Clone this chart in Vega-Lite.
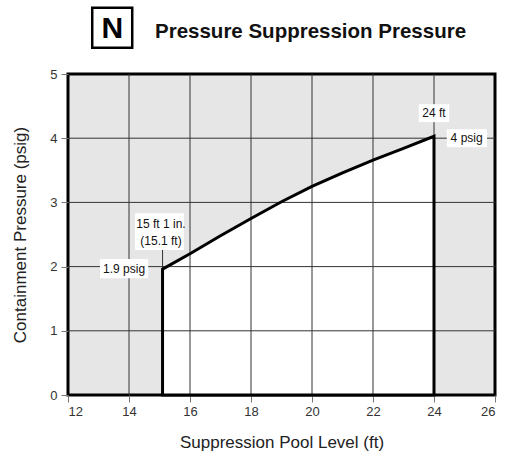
{
  "$schema": "https://vega.github.io/schema/vega-lite/v6.json",
  "width": 427,
  "height": 321,
  "autosize": "none",
  "padding": {"left": 68, "top": 74, "right": 14, "bottom": 59},
  "background": "white",
  "title": {
    "text": "Pressure Suppression Pressure",
    "anchor": "start",
    "frame": "group",
    "dx": 87,
    "offset": -40,
    "font": "Liberation Sans",
    "fontSize": 20.5,
    "fontWeight": "bold",
    "color": "#111"
  },
  "config": {
    "view": {"fill": "#e6e6e6", "stroke": "#000", "strokeWidth": 3},
    "axis": {
      "grid": false,
      "domain": false,
      "tickColor": "#777",
      "tickSize": 7,
      "labelFont": "Liberation Sans",
      "labelFontSize": 13,
      "labelColor": "#333",
      "titleFont": "Liberation Sans",
      "titleFontSize": 17,
      "titleFontWeight": "normal",
      "titleColor": "#222"
    },
    "text": {"font": "Liberation Sans"}
  },
  "datasets": {
    "curve": [
      {"level": 15.1, "psig": 1.96},
      {"level": 16, "psig": 2.2},
      {"level": 17, "psig": 2.48},
      {"level": 18, "psig": 2.75},
      {"level": 19, "psig": 3.01},
      {"level": 20, "psig": 3.25},
      {"level": 21, "psig": 3.46},
      {"level": 22, "psig": 3.66},
      {"level": 23, "psig": 3.84},
      {"level": 24, "psig": 4.03}
    ],
    "gridx": [{"level": 14}, {"level": 16}, {"level": 18}, {"level": 20}, {"level": 22}, {"level": 24}],
    "gridy": [{"psig": 1}, {"psig": 2}, {"psig": 3}, {"psig": 4}],
    "leader": [{"level": 15.1, "from": 1.96, "to": 2.27}],
    "labels": [
      {"text": ["1.9 psig"], "level": 13.84, "psig": 1.97, "x1": 13.05, "x2": 14.63, "y1": 1.82, "y2": 2.12},
      {"text": ["15 ft 1 in.", "(15.1 ft)"], "level": 15.05, "psig": 2.66, "x1": 14.2, "x2": 15.8, "y1": 2.26, "y2": 2.83},
      {"text": ["24 ft"], "level": 24, "psig": 4.39, "x1": 23.5, "x2": 24.5, "y1": 4.25, "y2": 4.53},
      {"text": ["4 psig"], "level": 25.07, "psig": 4.0, "x1": 24.42, "x2": 25.74, "y1": 3.86, "y2": 4.14}
    ],
    "badge": [{"level": 13.45, "psig": 5.72, "text": "N"}]
  },
  "layer": [
    {
      "data": {"name": "curve"},
      "mark": {"type": "area", "fill": "white", "stroke": null},
      "encoding": {
        "x": {"field": "level", "type": "quantitative", "scale": {"domain": [12, 26], "nice": false}, "axis": {"values": [12, 14, 16, 18, 20, 22, 24, 26], "title": "Suppression Pool Level (ft)", "titlePadding": 16, "labelPadding": 3}},
        "y": {"field": "psig", "type": "quantitative", "scale": {"domain": [0, 5], "nice": false}, "axis": {"values": [0, 1, 2, 3, 4, 5], "format": "d", "title": "Containment Pressure (psig)", "titlePadding": 20, "labelPadding": 4}}
      }
    },
    {
      "data": {"name": "gridx"},
      "mark": {"type": "rule", "color": "#333", "strokeWidth": 1},
      "encoding": {"x": {"field": "level", "type": "quantitative"}}
    },
    {
      "data": {"name": "gridy"},
      "mark": {"type": "rule", "color": "#333", "strokeWidth": 1},
      "encoding": {"y": {"field": "psig", "type": "quantitative"}}
    },
    {
      "data": {"name": "leader"},
      "mark": {"type": "rule", "color": "#333", "strokeWidth": 1},
      "encoding": {
        "x": {"field": "level", "type": "quantitative"},
        "y": {"field": "from", "type": "quantitative"},
        "y2": {"field": "to"}
      }
    },
    {
      "data": {"name": "curve"},
      "mark": {"type": "area", "fill": null, "fillOpacity": 0, "stroke": "black", "strokeWidth": 3, "strokeJoin": "miter"},
      "encoding": {
        "x": {"field": "level", "type": "quantitative"},
        "y": {"field": "psig", "type": "quantitative"}
      }
    },
    {
      "data": {"name": "labels"},
      "mark": {"type": "rect", "fill": "white"},
      "encoding": {
        "x": {"field": "x1", "type": "quantitative"},
        "x2": {"field": "x2"},
        "y": {"field": "y1", "type": "quantitative"},
        "y2": {"field": "y2"}
      }
    },
    {
      "data": {"name": "labels"},
      "mark": {"type": "text", "fontSize": 12, "color": "#111", "align": "center", "baseline": "middle", "lineHeight": 17},
      "encoding": {
        "x": {"field": "level", "type": "quantitative"},
        "y": {"field": "psig", "type": "quantitative"},
        "text": {"field": "text"}
      }
    },
    {
      "data": {"name": "badge"},
      "mark": {"type": "point", "shape": "square", "size": 1600, "filled": false, "stroke": "black", "strokeWidth": 2.5, "fill": "white", "fillOpacity": 1, "opacity": 1, "clip": false},
      "encoding": {
        "x": {"field": "level", "type": "quantitative"},
        "y": {"field": "psig", "type": "quantitative"}
      }
    },
    {
      "data": {"name": "badge"},
      "mark": {"type": "text", "fontSize": 30, "fontWeight": "bold", "color": "black", "align": "center", "baseline": "middle", "dy": 1, "clip": false},
      "encoding": {
        "x": {"field": "level", "type": "quantitative"},
        "y": {"field": "psig", "type": "quantitative"},
        "text": {"field": "text"}
      }
    }
  ]
}
